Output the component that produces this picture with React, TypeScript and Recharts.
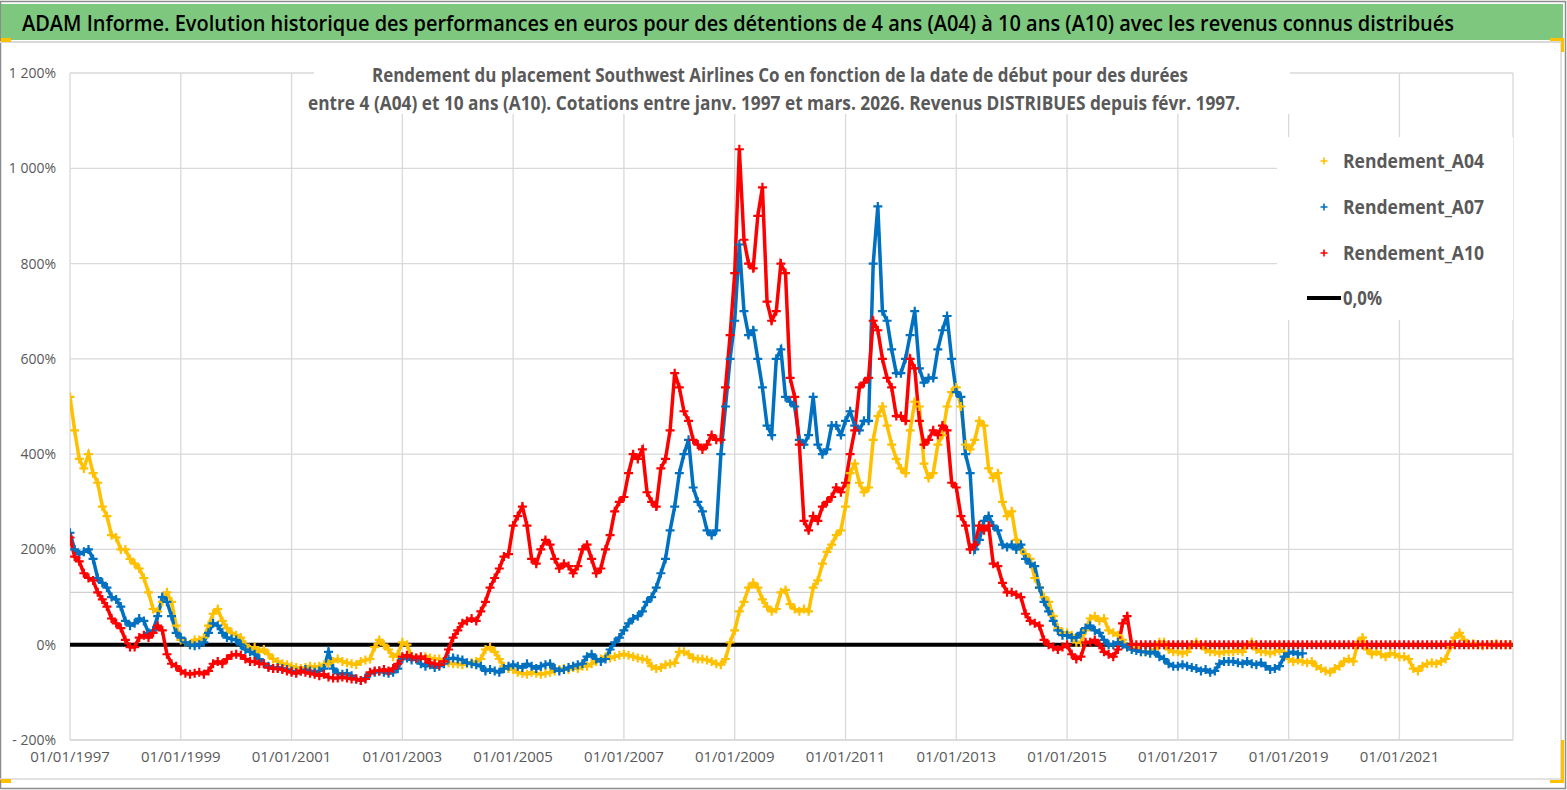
import { CartesianGrid, ComposedChart, Line, ReferenceLine, XAxis, YAxis } from "recharts"

// months counted from 01/01/1997
const xTicks = [0, 24, 48, 72, 96, 120, 144, 168, 192, 216, 240, 264, 288]
const yTicks = [-200, 0, 200, 400, 600, 800, 1000, 1200]

// Rendement_A04 (%), one value per month, Jan 1997 -> Jan 2023
const a04 = [
  520, 450, 390, 370, 400, 360, 340, 290, 270, 230, 225, 200,
  200, 180, 170, 160, 140, 110, 75, 70, 90, 110, 90, 40,
  10, 5, 0, 10, 10, 15, 40, 65, 75, 50, 35, 25,
  20, 15, 0, -10, -5, -15, -10, -20, -30, -35, -40, -42,
  -45, -48, -50, -48, -45, -47, -45, -42, -40, -35, -30, -35,
  -38, -40, -42, -35, -32, -30, -5, 10, 0, -10, -25, -20,
  5, 0, -25, -28, -30, -25, -28, -30, -30, -35, -38, -40,
  -40, -42, -40, -38, -35, -30, -10, -5, -15, -30, -45, -50,
  -52, -58, -60, -62, -58, -60, -62, -60, -58, -55, -52, -50,
  -52, -48, -50, -45, -45, -40, -35, -30, -25, -28, -25, -22,
  -20, -22, -25, -28, -30, -32, -45, -50, -48, -42, -40, -38,
  -15, -15, -20, -28, -30, -30, -32, -35, -40, -42, -30, 5,
  30, 70, 90, 120, 130, 120, 95, 80, 70, 75, 110, 115,
  85, 75, 70, 75, 70, 120, 135, 170, 195, 210, 230, 240,
  290, 360, 380, 340, 320, 330, 430, 480, 500, 460, 420, 390,
  370, 360, 450, 510, 500, 380, 350, 360, 420, 440, 500, 530,
  540, 500, 420, 410, 430, 470, 460, 370, 350, 360, 300, 270,
  280, 220, 200, 190, 180, 140, 120, 100, 90, 60, 35, 25,
  25, 20, 5, 5, 30, 55, 60, 50, 55, 30, 25, 20,
  10, -5, -5, -5, -15, -15, -15, -10, 5, 5, -10, -15,
  -15, -18, -15, 0, 5, 0, -10, -15, -15, -18, -15, -15,
  -15, -12, -15, 0, 5, -10, -15, -15, -18, -15, -12, -15,
  -30, -35, -32, -35, -38, -35, -45, -50, -55, -58, -50, -45,
  -35, -30, -35, 5, 15, -10, -20, -15, -20, -25, -18, -20,
  -25, -25, -30, -50, -55, -45, -40, -38, -40, -35, -30, -5,
  15, 25, 10, 0, 2, 0, -2, 0, 0, 2, 0, 0,
  0,
]

// Rendement_A07 (%), Jan 1997 -> Apr 2019
const a07 = [
  235, 200, 190, 195, 200, 180, 140, 130, 120, 100, 95, 80,
  50, 40, 45, 55, 50, 25, 30, 60, 100, 90, 60, 25,
  15, 5, 0, -2, 0, 5, 25, 45, 40, 25, 15, 12,
  10, 0, -10, -15, -20, -30, -40, -45, -50, -48, -50, -52,
  -55, -58, -55, -52, -55, -58, -55, -50, -15, -50, -60, -62,
  -60, -65, -72, -75, -70, -60, -58, -55, -58, -60, -58, -50,
  -30, -28, -32, -30, -40, -45, -42, -48, -45, -40, -30, -28,
  -30, -32, -38, -40, -42, -45, -55, -52, -55, -58, -50, -45,
  -42, -45, -48, -40, -45, -50, -45, -42, -40, -50, -55, -52,
  -48, -45, -42, -40, -25, -20, -30, -35, -30, -10, 5, 15,
  30, 45, 55, 60, 70, 90, 100, 120, 150, 180, 240, 290,
  360, 400, 430, 330, 300, 280, 240, 230, 240, 400, 500, 600,
  680, 840, 700, 650, 660, 600, 540, 460, 440, 600, 620, 520,
  510, 500, 430, 420, 440, 520, 420, 400, 410, 460, 460, 440,
  470, 490, 460, 450, 470, 470, 800, 920, 700, 680, 620, 570,
  570, 600, 650, 700, 580, 550, 560, 560, 620, 660, 690, 600,
  530, 520, 400, 360, 200, 220, 260, 270, 250, 240, 210, 205,
  210, 200, 210, 180, 170, 165, 120, 90, 70, 50, 30, 20,
  20, 15, 15, 25, 35, 40, 30, 25, 10, 0, 0, 5,
  0, -5, -10, -12, -15, -15, -18, -15, -25, -30, -40, -45,
  -45, -42, -45, -48, -50, -55, -52, -58, -55, -40, -35, -35,
  -35, -38, -40, -35, -40, -42, -38, -45, -52, -50, -45, -25,
  -18, -15, -20, -18,
]

// Rendement_A10 (%), Jan 1997 -> Jan 2023
const a10 = [
  225, 185, 175, 150, 140, 135, 110, 95, 80, 55, 45, 35,
  10, -5, -5, 15, 20, 15, 25, 40, 30, -20, -40, -45,
  -55, -60, -62, -60, -58, -62, -55, -40, -35, -40, -30, -22,
  -20, -22, -30, -35, -35, -40, -40, -48, -50, -50, -52, -55,
  -58, -60, -55, -58, -60, -62, -65, -62, -68, -70, -70, -68,
  -70, -72, -72, -75, -72, -58, -55, -55, -52, -55, -50, -40,
  -25, -22, -25, -28, -25, -30, -38, -40, -42, -35, -10, 15,
  30, 45, 50, 55, 50, 70, 90, 120, 140, 160, 185, 190,
  250, 270, 290, 250, 180, 170, 200, 220, 210, 180, 160, 170,
  165, 150, 165, 200, 210, 180, 150, 160, 200, 230, 280, 300,
  310, 360, 400, 390, 410, 320, 300, 290, 370, 390, 450, 570,
  540, 490, 470, 430, 420, 410, 420, 440, 430, 430, 540, 650,
  780, 1040, 850, 800, 790, 900, 960, 720, 680, 700, 800, 780,
  560, 520, 420, 260, 240, 270, 260, 290, 300, 310, 330, 320,
  340, 400, 450, 540, 550, 560, 680, 660, 600, 560, 540, 480,
  480, 470, 600, 580, 470, 420, 430, 450, 440, 460, 450, 340,
  330, 270, 250, 200, 210, 250, 240, 250, 170, 165, 130, 110,
  110, 105, 100, 65, 50, 45, 40, 10, 0, -5, -10, -5,
  0, -20, -30, -25, 5, 5, 10, 0, -15, -20, -25, -10,
  45, 60, 0, 0, 0, 0, 0, 0, 0, 0, 0, 0,
  0, 0, 0, 0, 0, 0, 0, 0, 0, 0, 0, 0,
  0, 0, 0, 0, 0, 0, 0, 0, 0, 0, 0, 0,
  0, 0, 0, 0, 0, 0, 0, 0, 0, 0, 0, 0,
  0, 0, 0, 0, 0, 0, 0, 0, 0, 0, 0, 0,
  0, 0, 0, 0, 0, 0, 0, 0, 0, 0, 0, 0,
  0, 0, 0, 0, 0, 0, 0, 0, 0, 0, 0, 0,
  0,
]

const series = [
  { name: "Rendement_A04", color: "#FFC000", values: a04 },
  { name: "Rendement_A07", color: "#0070C0", values: a07 },
  { name: "Rendement_A10", color: "#FF0000", values: a10 },
]

const FONT = "'Liberation Sans Narrow', 'Open Sans', sans-serif"
const GREY = "#595959"

const toPoints = (vals: number[]) => vals.map((v, m) => ({ m, v }))

const crossDot = (color: string) => (props: any) => {
  const { cx, cy, index } = props
  if (cx == null || cy == null) return <g key={index} />
  return <path key={index} d={`M${cx - 4.5},${cy}h9M${cx},${cy - 4.5}v9`} stroke={color} strokeWidth={2.2} fill="none" />
}

const fmtY = (v: number) => {
  const a = Math.abs(v)
  const s = a >= 1000 ? `${Math.floor(a / 1000)} ${String(a % 1000).padStart(3, "0")}` : `${a}`
  return (v < 0 ? "- " : "") + s + "%"
}

const XTick = (props: any) => {
  const { x, y, payload } = props
  return (
    <text x={x} y={y + 14} textAnchor="middle" fill={GREY} fontSize={15} fontFamily={FONT}>
      {`01/01/${1997 + payload.value / 12}`}
    </text>
  )
}

const YTick = (props: any) => {
  const { y, payload } = props
  return (
    <text x={56} y={y + 5} textAnchor="end" fill={GREY} fontSize={14} fontFamily={FONT}>
      {fmtY(payload.value)}
    </text>
  )
}

export default function App() {
  return (
    <div style={{ position: "absolute", left: 0, top: 0, width: 1567, height: 790, background: "#fff", fontFamily: FONT }}>
      <div style={{ position: "absolute", left: 0, top: 0 }}>
        <ComposedChart width={1567} height={790} margin={{ top: 73, right: 54, bottom: 20, left: 10 }}>
          <CartesianGrid stroke="#d9d9d9" strokeWidth={1.3} />
          <XAxis
            type="number"
            dataKey="m"
            domain={[0, 312.6]}
            ticks={xTicks}
            allowDataOverflow
            height={30}
            tickLine={false}
            axisLine={{ stroke: "#d9d9d9", strokeWidth: 1.3 }}
            tick={<XTick />}
            interval={0}
          />
          <YAxis
            type="number"
            domain={[-200, 1200]}
            ticks={yTicks}
            width={60}
            axisLine={false}
            tickLine={false}
            tick={<YTick />}
            interval={0}
          />
          <ReferenceLine y={110} stroke="#d0d0d0" strokeWidth={1.3} />
          <ReferenceLine y={0} stroke="#000" strokeWidth={4} />
          {series.map((s) => (
            <Line
              key={s.name}
              data={toPoints(s.values)}
              dataKey="v"
              name={s.name}
              type="linear"
              stroke={s.color}
              strokeWidth={3.5}
              dot={crossDot(s.color)}
              activeDot={false}
              isAnimationActive={false}
            />
          ))}
        </ComposedChart>
      </div>
      <svg width={1567} height={790} style={{ position: "absolute", left: 0, top: 0, pointerEvents: "none" }}>
        {/* frame */}
        <rect x={0.5} y={1.5} width={1565} height={787} fill="none" stroke="#8c8c8c" strokeWidth={1.5} />
        <rect x={1} y={4} width={1562} height={36} fill="#7DC87E" />
        <line x1={0} y1={42} x2={1561} y2={42} stroke="#d9d9d9" strokeWidth={2} />
        <line x1={1561} y1={42} x2={1561} y2={780} stroke="#d9d9d9" strokeWidth={1.5} />
        <line x1={0} y1={779} x2={1561} y2={779} stroke="#d9d9d9" strokeWidth={1.5} />
        <rect x={1} y={38} width={10} height={4} fill="#FFC000" />
        <rect x={1550} y={38} width={14} height={3} fill="#FFC000" />
        <rect x={1561} y={38} width={3} height={14} fill="#FFC000" />
        <rect x={1561} y={740} width={3} height={43} fill="#FFC000" />
        <rect x={1550} y={780} width={14} height={3} fill="#FFC000" />
        <rect x={1} y={779} width={10} height={4} fill="#FFC000" />
        <text x={22} y={31} fontSize={21} fontWeight={600} fontFamily={FONT} fill="#000" textLength={1432} lengthAdjust="spacingAndGlyphs">
          ADAM Informe. Evolution historique des performances en euros pour des détentions de 4 ans (A04) à 10 ans (A10) avec les revenus connus distribués
        </text>
        {/* subtitle */}
        <rect x={314} y={60} width={976} height={54} fill="#fff" />
        <text x={372} y={82} fontSize={19} fontWeight="bold" fontFamily={FONT} fill={GREY} textLength={816} lengthAdjust="spacingAndGlyphs">
          Rendement du placement Southwest Airlines Co en fonction de la date de début pour des durées
        </text>
        <text x={308} y={110} fontSize={19} fontWeight="bold" fontFamily={FONT} fill={GREY} textLength={932} lengthAdjust="spacingAndGlyphs">
          entre 4 (A04) et 10 ans (A10). Cotations entre janv. 1997 et mars. 2026. Revenus DISTRIBUES depuis févr. 1997.
        </text>
        {/* legend */}
        <rect x={1277} y={137} width={236} height={183} fill="#fff" />
        {series.map((s, i) => {
          const cy = 161 + i * 46
          return (
            <g key={s.name}>
              <path d={`M1320.5,${cy}h7M1324,${cy - 3.5}v7`} stroke={s.color} strokeWidth={1.6} />
              <text x={1343} y={cy + 7} fontSize={20} fontWeight="bold" fontFamily={FONT} fill={GREY} textLength={141} lengthAdjust="spacingAndGlyphs">
                {s.name}
              </text>
            </g>
          )
        })}
        <line x1={1307} y1={298} x2={1341} y2={298} stroke="#000" strokeWidth={4} />
        <text x={1343} y={305} fontSize={20} fontWeight="bold" fontFamily={FONT} fill={GREY} textLength={39} lengthAdjust="spacingAndGlyphs">
          0,0%
        </text>
      </svg>
    </div>
  )
}
